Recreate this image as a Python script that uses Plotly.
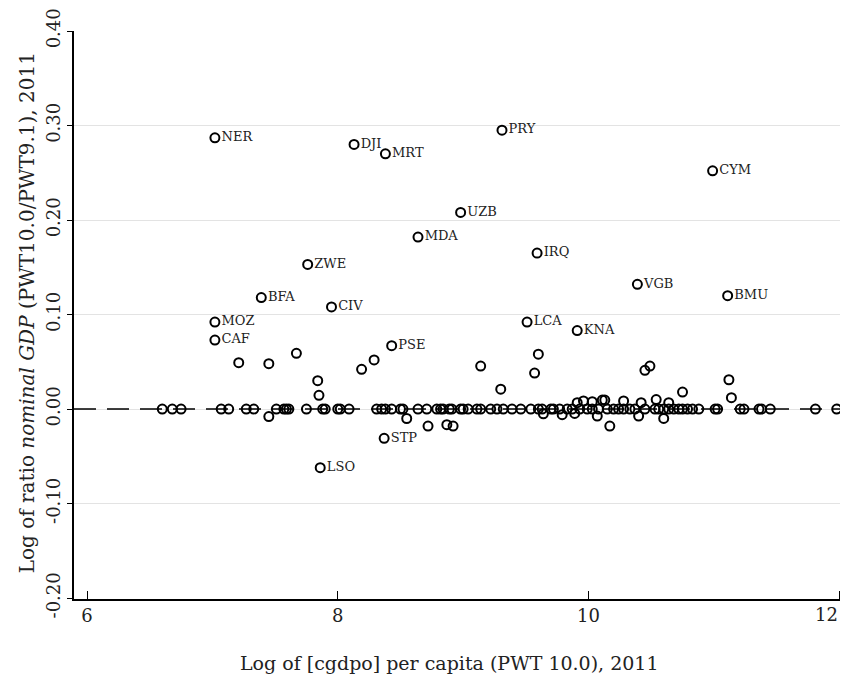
import plotly.graph_objects as go

# Labeled countries
codes = ["NER", "DJI", "MRT", "PRY", "UZB", "MDA", "IRQ", "ZWE", "BFA", "CIV",
         "MOZ", "CAF", "PSE", "LCA", "CYM", "VGB", "BMU", "KNA", "STP", "LSO"]
lab_x = [7.02, 8.13, 8.38, 9.31, 8.98, 8.64, 9.59, 7.76, 7.39, 7.95,
         7.02, 7.02, 8.43, 9.51, 10.99, 10.39, 11.11, 9.91, 8.37, 7.86]
lab_y = [0.287, 0.280, 0.270, 0.295, 0.208, 0.182, 0.165, 0.153, 0.118, 0.108,
         0.092, 0.073, 0.067, 0.092, 0.252, 0.132, 0.120, 0.083, -0.031, -0.062]

# Unlabeled countries off the zero line
off_x = [7.21, 7.45, 7.67, 7.84, 7.85, 8.19, 8.29, 7.45, 9.14, 9.30, 8.55, 8.72,
         8.87, 8.92, 9.60, 9.57, 10.17, 10.45, 10.49, 10.75, 11.12, 11.14,
         9.91, 9.96, 10.03, 10.11, 10.13, 9.64, 9.79, 9.89, 10.07, 10.28, 10.42,
         10.54, 10.64, 10.40, 10.60]
off_y = [0.049, 0.048, 0.059, 0.030, 0.0145, 0.042, 0.052, -0.008, 0.0455, 0.021,
         -0.010, -0.018, -0.0166, -0.018, 0.058, 0.038, -0.018, 0.041, 0.0455,
         0.018, 0.031, 0.012,
         0.0067, 0.0085, 0.0077, 0.0095, 0.0095, -0.005, -0.006, -0.0046, -0.0074,
         0.0085, 0.0067, 0.010, 0.0067, -0.0074, -0.0099]

# Unlabeled countries on the zero line
zero_x = [6.60, 6.68, 6.75, 7.07, 7.13, 7.27, 7.33, 7.51, 7.57, 7.59, 7.61, 7.75,
          7.88, 7.90, 8.00, 8.02, 8.09, 8.31, 8.35, 8.38, 8.43, 8.50, 8.52, 8.64,
          8.71, 8.79, 8.82, 8.84, 8.89, 8.91, 8.98, 9.00, 9.04, 9.11, 9.14, 9.22,
          9.27, 9.32, 9.39, 9.46, 9.54, 9.60, 9.63, 9.70, 9.72, 9.77, 9.83, 9.87,
          9.93, 9.99, 10.03, 10.08, 10.15, 10.20, 10.24, 10.28, 10.33, 10.37, 10.45,
          10.53, 10.56, 10.60, 10.64, 10.68, 10.72, 10.75, 10.79, 10.83, 10.88,
          11.01, 11.03, 11.21, 11.24, 11.36, 11.38, 11.45, 11.81, 11.98]
zero_y = [0.0, 0.0, 0.0, 0.0, 0.0, 0.0, 0.0, 0.0, 0.0, 0.0, 0.0, 0.0,
          0.0, 0.0, 0.0, 0.0, 0.0, 0.0, 0.0, 0.0, 0.0, 0.0, 0.0, 0.0,
          0.0, 0.0, 0.0, 0.0, 0.0, 0.0, 0.0, 0.0, 0.0, 0.0, 0.0, 0.0,
          0.0, 0.0, 0.0, 0.0, 0.0, 0.0, 0.0, 0.0, 0.0, 0.0, 0.0, 0.0,
          0.0, 0.0, 0.0, 0.0, 0.0, 0.0, 0.0, 0.0, 0.0, 0.0, 0.0,
          0.0, 0.0, 0.0, 0.0, 0.0, 0.0, 0.0, 0.0, 0.0, 0.0,
          0.0, 0.0, 0.0, 0.0, 0.0, 0.0, 0.0, 0.0, 0.0]

x_ticks = [6, 8, 10, 12]
x_ticktext = ["6", "8", "10", ""]   # the last label is drawn as an annotation below
y_ticks = [-0.2, -0.1, 0.0, 0.1, 0.2, 0.3, 0.4]
y_ticktext = ["-0.20", "-0.10", "0.00", "0.10", "0.20", "0.30", "0.40"]

FONT = "DejaVu Serif"
marker = dict(symbol="circle-open", size=9, color="black", line=dict(width=2, color="black"))

fig = go.Figure()
fig.add_trace(go.Scatter(x=zero_x + off_x, y=zero_y + off_y, mode="markers",
                         marker=marker, showlegend=False, hoverinfo="x+y"))
fig.add_trace(go.Scatter(x=lab_x, y=lab_y, mode="markers+text", text=codes,
                         textposition="middle right",
                         textfont=dict(family=FONT, size=13, color="#222"),
                         marker=marker, showlegend=False))

fig.add_hline(y=0, line=dict(color="black", width=1.5, dash="22px,11px"), layer="above")

# The page body has an 8px default margin, so the figure is sized to fit the window.
fig.update_layout(
    width=840, height=669,
    margin=dict(l=66, r=0, t=23, b=78),
    plot_bgcolor="white", paper_bgcolor="white",
    font=dict(family=FONT, size=18, color="#222"),
    xaxis=dict(range=[5.896, 12.07], tickvals=x_ticks, ticktext=x_ticktext,
               ticks="inside", ticklen=8,
               tickcolor="black", showline=True, linecolor="black", linewidth=1.5,
               showgrid=False, zeroline=False, tickfont=dict(size=18),
               automargin=False, ticklabeloverflow="allow"),
    yaxis=dict(range=[-0.201, 0.40], tickvals=y_ticks, ticktext=y_ticktext,
               ticks="outside", ticklen=5, tickcolor="black", tickangle=-90,
               showline=True, linecolor="black", linewidth=1.5,
               showgrid=True, gridcolor="#e3e3e3", gridwidth=1, zeroline=False,
               tickfont=dict(size=18), automargin=False, ticklabeloverflow="allow"),
    annotations=[
        dict(text=str(x_ticks[-1]), xref="x", yref="paper", x=x_ticks[-1], y=0,
             xanchor="right", yanchor="top", xshift=1, yshift=-3, showarrow=False,
             font=dict(family=FONT, size=18, color="#222")),
        dict(text="Log of [cgdpo] per capita (PWT 10.0), 2011", xref="paper", yref="paper",
             x=0.485, y=-0.1127, xanchor="center", yanchor="middle", showarrow=False,
             font=dict(family=FONT, size=19, color="#222")),
        dict(text="Log of ratio <i>nominal GDP</i> (PWT10.0/PWT9.1), 2011",
             xref="paper", yref="paper", x=-0.0607, y=0.503, xanchor="center",
             yanchor="middle", textangle=-90, showarrow=False,
             font=dict(family=FONT, size=20, color="#222")),
    ],
)

fig.write_html("out.html")
